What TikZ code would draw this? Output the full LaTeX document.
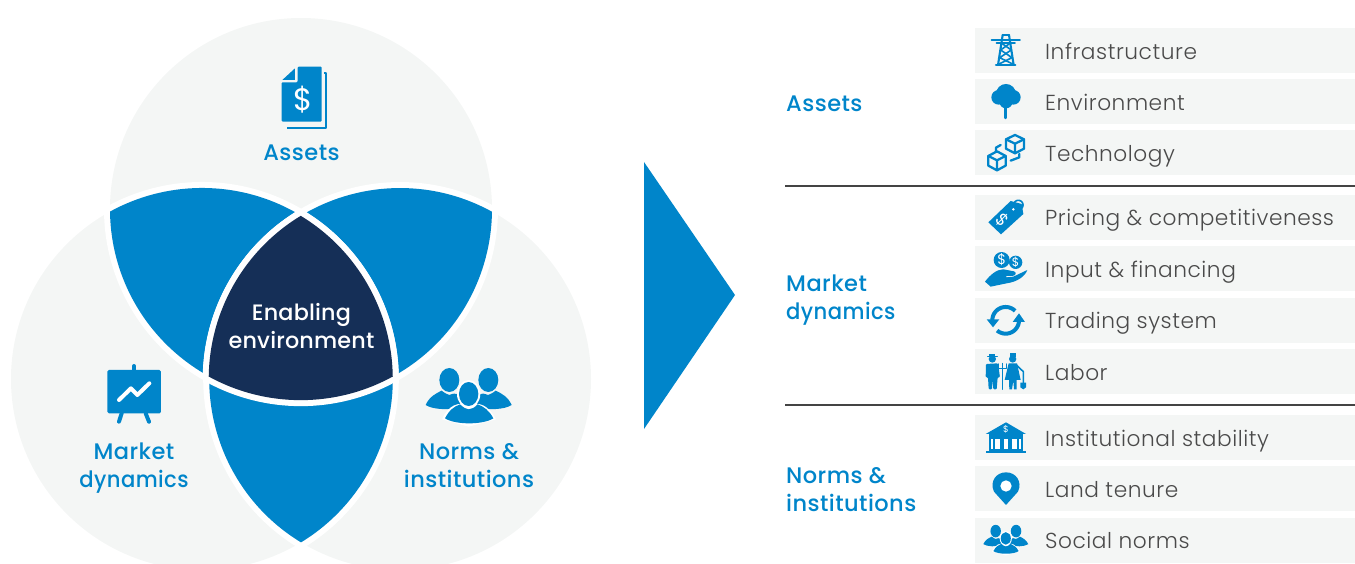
\documentclass[tikz,border=0pt]{standalone}
\usepackage{fontspec}
\setmainfont{Poppins}
\newfontfamily\rowfont[UprightFont=* Light,LetterSpace=2.5]{Poppins}
\newfontfamily\headfont[UprightFont=* Medium,LetterSpace=2]{Poppins}
\newfontfamily\centerfont[UprightFont=* Medium,LetterSpace=0.8]{Poppins}
\newfontfamily\dollarfont{Poppins}
\definecolor{vgray}{HTML}{F4F6F5}
\definecolor{vblue}{HTML}{0085CA}
\definecolor{vdark}{HTML}{152F57}
\definecolor{vtext}{HTML}{4A4A4A}
\definecolor{vrule}{HTML}{444444}
\tikzset{
  zoomat/.style n args={2}{shift={({#1*1pt},{(563-#2)*1pt})},x=.3333pt,y=-.3333pt},
  smallat/.style n args={2}{shift={({#1*1pt},{(563-#2)*1pt})},x=.1743pt,y=-.1743pt},
  lensfill/.style={fill=vblue,draw=none},
  lensline/.style={draw=white,line width=12pt,line join=round,fill=none},
  rowbox/.style={fill=vgray,draw=none},
  rowlabel/.style={anchor=base west,inner sep=0pt,text=vtext,font=\rowfont\fontsize{21.7}{24}\selectfont},
  headlabel/.style={anchor=base west,inner sep=0pt,text=vblue,font=\headfont\fontsize{22.5}{24}\selectfont},
  venntitle/.style={anchor=base,inner sep=0pt,text=vblue,font=\headfont\fontsize{22.5}{24}\selectfont},
  centertitle/.style={anchor=base,inner sep=0pt,text=white,font=\centerfont\fontsize{22.3}{24}\selectfont},
  iconline/.style={draw=vblue,line width=1.9pt,line cap=round,line join=round},
  whiteline/.style={draw=white,line cap=round,line join=round},
  dollar/.style={inner sep=0pt,text=white,font=\dollarfont\fontsize{#1}{#1}\selectfont},
  dividerline/.style={draw=vrule,line width=1.6pt},
}
\newcommand{\peoplemark}{%
  \fill[vblue] (47,165) .. controls (58,140) and (78,130) .. (95,122) .. controls (105,130) and (112,133) .. (118,135) .. controls (140,125) and (150,135) .. (160,145) -- (150,172) .. controls (120,180) and (70,180) .. (47,165) -- cycle;
  \fill[vblue] (305,165) .. controls (294,140) and (274,130) .. (257,122) .. controls (247,130) and (240,133) .. (234,135) .. controls (212,125) and (202,135) .. (192,145) -- (202,172) .. controls (232,180) and (282,180) .. (305,165) -- cycle;
  \fill[vblue] (118,90) ellipse [x radius=30,y radius=36];
  \fill[vblue] (235,90) ellipse [x radius=30,y radius=36];
  \fill[white] (176,132) ellipse [x radius=35,y radius=42];
  \fill[white] (96,208) .. controls (115,165) and (145,155) .. (176,165) .. controls (208,155) and (235,165) .. (258,208) -- (176,230) -- cycle;
  \fill[vblue] (176,132) ellipse [x radius=29,y radius=36];
  \fill[vblue] (105,205) .. controls (118,180) and (132,170) .. (150,163) .. controls (160,172) and (168,178) .. (176,178) .. controls (186,178) and (194,172) .. (203,163) .. controls (222,170) and (238,182) .. (250,205) .. controls (220,225) and (135,225) .. (105,205) -- cycle;
}
\begin{document}
\begin{tikzpicture}[x=1pt,y=1pt]
\useasboundingbox (0,0) rectangle (1355,563);
\clip (0,0) rectangle (1355,563);
% circles
\fill[vgray] (301,354) circle (191);
\fill[vgray] (202,184) circle (191);
\fill[vgray] (400,184) circle (191);
% lenses
\path[lensline] (110,351.4) arc (180.8:298.8:191) arc (0.8:118.8:191) -- cycle;
\path[lensfill] (110,351.4) arc (180.8:298.8:191) arc (0.8:118.8:191) -- cycle;
\path[lensline] (209,186.6) arc (241.2:359.2:191) arc (61.2:179.2:191) -- cycle;
\path[lensfill] (209,186.6) arc (241.2:359.2:191) arc (61.2:179.2:191) -- cycle;
\path[lensline] (301,347) arc (58.7:-58.7:191) arc (238.7:121.3:191) -- cycle;
\path[lensfill] (301,347) arc (58.7:-58.7:191) arc (238.7:121.3:191) -- cycle;
\path[lensline] (301,347) arc (58.7:0.8:191) arc (-61.2:-118.8:191) arc (179.2:121.3:191) -- cycle;
\fill[vdark] (301,347) arc (58.7:0.8:191) arc (-61.2:-118.8:191) arc (179.2:121.3:191) -- cycle;
% venn labels
\node[centertitle] (enabling) at (301.5,242.3) {Enabling};
\node[centertitle] (environment) at (301.5,214.3) {environment};
\node[venntitle] (vassets) at (301.5,402) {Assets};
\node[venntitle] (vmarket1) at (134,103.7) {Market};
\node[venntitle,xscale=.94] (vmarket2) at (134,75.7) {dynamics};
\node[venntitle] (vnorms1) at (469,103.7) {Norms \&};
\node[venntitle] (vnorms2) at (469,75.7) {institutions};
% arrow triangle
\fill[vblue] (644,401) -- (735,268) -- (644,134) -- cycle;
% row boxes
\fill[rowbox] (975,535) rectangle (1355,490.3);
\fill[rowbox] (975,484) rectangle (1355,439);
\fill[rowbox] (975,433) rectangle (1355,388);
\fill[rowbox] (975,368) rectangle (1355,323);
\fill[rowbox] (975,317) rectangle (1355,272);
\fill[rowbox] (975,265) rectangle (1355,220);
\fill[rowbox] (975,214) rectangle (1355,169);
\fill[rowbox] (975,148) rectangle (1355,103);
\fill[rowbox] (975,97) rectangle (1355,52);
\fill[rowbox] (975,45) rectangle (1355,0);
% dividers
\coordinate (d1a) at (785,377); \coordinate (d1b) at (1355,377);
\coordinate (d2a) at (785,158); \coordinate (d2b) at (1355,158);
\draw[dividerline] (d1a) -- (d1b);
\draw[dividerline] (d2a) -- (d2b);
% row labels
\node[rowlabel] (r1) at (1045,503.5) {Infrastructure};
\node[rowlabel] (r2) at (1045,452) {Environment};
\node[rowlabel] (r3) at (1045,401.5) {Technology};
\node[rowlabel] (r4) at (1045,337.5) {Pricing \& competitiveness};
\node[rowlabel] (r5) at (1045,285.5) {Input \& financing};
\node[rowlabel] (r6) at (1045,234.5) {Trading system};
\node[rowlabel] (r7) at (1045,183) {Labor};
\node[rowlabel] (r8) at (1045,116.5) {Institutional stability};
\node[rowlabel] (r9) at (1045,65.5) {Land tenure};
\node[rowlabel] (r10) at (1045,14.5) {Social norms};
% head labels
\node[headlabel] (h1) at (786,451) {Assets};
\node[headlabel] (h2a) at (786,271.3) {Market};
\node[headlabel,xscale=.94,anchor=base west] (h2b) at (786,243.3) {dynamics};
\node[headlabel] (h3a) at (786,79.3) {Norms \&};
\node[headlabel] (h3b) at (786,51.3) {institutions};
% document icon
\begin{scope}[zoomat={250}{50}]
  \draw[vblue,line width=2pt,line join=round] (222,68) -- (228,68) -- (228,235) -- (110,235);
  \fill[vblue,rounded corners=1pt] (143,50) -- (215,50) -- (215,215) -- (95,215) -- (95,97) -- (143,97) -- cycle;
  \fill[vblue] (97,90) -- (135,55) -- (135,90) -- cycle;
  \node[dollar=31] (d1) at (160,148) {\$};
\end{scope}
% chart icon
\begin{scope}[zoomat={80}{350}]
  \draw[iconline,line width=4pt] (162,48) -- (162,62);
  \draw[iconline,line width=4pt] (125,190) -- (117,215);
  \draw[iconline,line width=4pt] (197,190) -- (207,215);
  \fill[vblue,rounded corners=1.5pt] (82,60) rectangle (243,190);
  \draw[whiteline,line width=4pt] (117,150) -- (153,115) -- (172,135) -- (208,100);
\end{scope}
% people icon large
\begin{scope}[zoomat={410}{350}]
  \peoplemark
\end{scope}
% pylon
\begin{scope}[zoomat={970}{20}]
  \draw[iconline,line width=2.1pt] (98,45) -- (84,135);
  \draw[iconline,line width=2.1pt] (117,45) -- (131,135);
  \draw[iconline,line width=2.1pt] (98,44) -- (117,44);
  \draw[iconline,line width=2.1pt] (78,136) -- (136,136);
  \draw[iconline] (65,59) -- (150,59);
  \draw[iconline] (80,68) -- (135,68);
  \draw[iconline,line width=1.6pt] (95,70) -- (124,90) -- (89,113) -- (128,132);
  \draw[iconline,line width=1.6pt] (120,70) -- (92,90) -- (126,113) -- (87,132);
\end{scope}
% tree
\begin{scope}[zoomat={970}{20}]
  \fill[vblue] (108,222) circle (30);
  \fill[vblue] (86,232) circle (22);
  \fill[vblue] (130,232) circle (22);
  \fill[vblue] (108,245) circle (20);
  \draw[iconline,line width=2.5pt] (107,255) -- (107,294);
\end{scope}
% cubes
\begin{scope}[zoomat={970}{20}]
  \draw[iconline,line width=2.3pt] (135,345) -- (162,358) -- (162,386) -- (135,400) -- (108,386) -- (108,358) -- cycle;
  \draw[iconline,line width=2.3pt] (108,358) -- (135,371) -- (162,358) (135,371) -- (135,400);
  \draw[iconline,line width=2.3pt] (81,394) -- (107,408) -- (107,437) -- (81,451) -- (55,437) -- (55,408) -- cycle;
  \draw[iconline,line width=2.3pt] (55,408) -- (81,421) -- (107,408) (81,421) -- (81,451);
  \draw[iconline,line width=2.3pt] (92,375) -- (78,383) -- (78,392);
  \draw[iconline,line width=2.3pt] (148,402) -- (148,412) -- (122,422);
\end{scope}
% price tag
\begin{scope}[zoomat={970}{190}]
  \fill[vblue] (55,97) -- (122,33) -- (155,42) -- (160,72) -- (93,133) -- cycle;
  \fill[white] (130,58) circle (4);
  \draw[iconline,line width=1.6pt] plot[domain=-60:170,samples=24] ({145+14*cos(\x)},{45-14*sin(\x)});
  \node[dollar=17,rotate=-45] (d2) at (98,90) {\$};
\end{scope}
% hand and coins
\begin{scope}[zoomat={970}{190}]
  \fill[vblue] (95,210) circle (24);
  \fill[vblue] (137,217) circle (20);
  \node[dollar=14] (d3) at (95,210) {\$};
  \node[dollar=12] (d4) at (137,217) {\$};
  \fill[vblue] (45,275) .. controls (60,255) and (80,238) .. (100,238) -- (132,244) .. controls (142,248) and (137,258) .. (125,258) -- (108,258) -- (110,262) -- (130,260) -- (172,240) .. controls (165,260) and (140,276) .. (110,280) -- (62,290) -- cycle;
\end{scope}
% trading arrows
\begin{scope}[zoomat={970}{190}]
  \draw[iconline,line width=4pt,line cap=butt] plot[domain=-180:-45,samples=30] ({107+40*cos(\x)},{391+40*sin(\x)});
  \draw[iconline,line width=4pt,line cap=butt] plot[domain=0:130,samples=30] ({107+40*cos(\x)},{391+40*sin(\x)});
  \fill[vblue] (50,388) -- (88,388) -- (69,412) -- cycle;
  \fill[vblue] (128,396) -- (165,396) -- (147,370) -- cycle;
\end{scope}
% farmers
\begin{scope}[zoomat={970}{190}]
  \fill[vblue] (67,507) circle (11);
  \fill[vblue] (58,492) rectangle (76,500);
  \draw[iconline,line width=1.3pt] (53,500) -- (82,500);
  \fill[vblue,rounded corners=1pt] (48,522) -- (84,520) -- (90,562) -- (83,562) -- (80,598) -- (70,598) -- (68,568) -- (66,598) -- (56,598) -- (54,562) -- (47,562) -- cycle;
  \draw[iconline,line width=1pt] (98,520) -- (98,598);
  \draw[iconline,line width=1pt] (85,522) -- (85,537) -- (110,537) -- (110,522) (98,522) -- (98,537);
  \fill[vblue] (128,507) circle (11);
  \fill[vblue] (120,490) rectangle (138,500);
  \fill[vblue] (116,520) -- (141,520) -- (152,570) -- (140,570) -- (140,598) -- (132,598) -- (130,572) -- (126,598) -- (118,598) -- (117,570) -- (104,570) -- cycle;
  \draw[iconline,line width=1.6pt] (138,524) -- (160,545) -- (160,580);
  \fill[vblue] (151,578) -- (168,578) -- (168,592) -- (160,598) -- (151,592) -- cycle;
\end{scope}
% bank
\begin{scope}[zoomat={970}{410}]
  \fill[vblue] (47,72) -- (108,37) -- (168,72) -- cycle;
  \fill[vblue] (47,122) rectangle (168,129);
  \fill[vblue] (57,72) rectangle (158,122);
  \fill[white] (64,86) rectangle (69,116);
  \fill[white] (76,86) rectangle (89,116);
  \fill[white] (101,86) rectangle (114,116);
  \fill[white] (127,86) rectangle (140,116);
  \fill[white] (147,86) rectangle (152,116);
  \node[dollar=9] (d5) at (108,58) {\$};
\end{scope}
% pin
\begin{scope}[zoomat={970}{410}]
  \fill[vblue] (108,285) -- (72,245) .. controls (58,215) and (78,187) .. (108,187) .. controls (138,187) and (158,215) .. (144,245) -- cycle;
  \fill[white] (108,228) circle (17);
\end{scope}
% social norms icon
\begin{scope}[smallat={975.1}{515.4}]
  \peoplemark
\end{scope}
\end{tikzpicture}
\end{document}
